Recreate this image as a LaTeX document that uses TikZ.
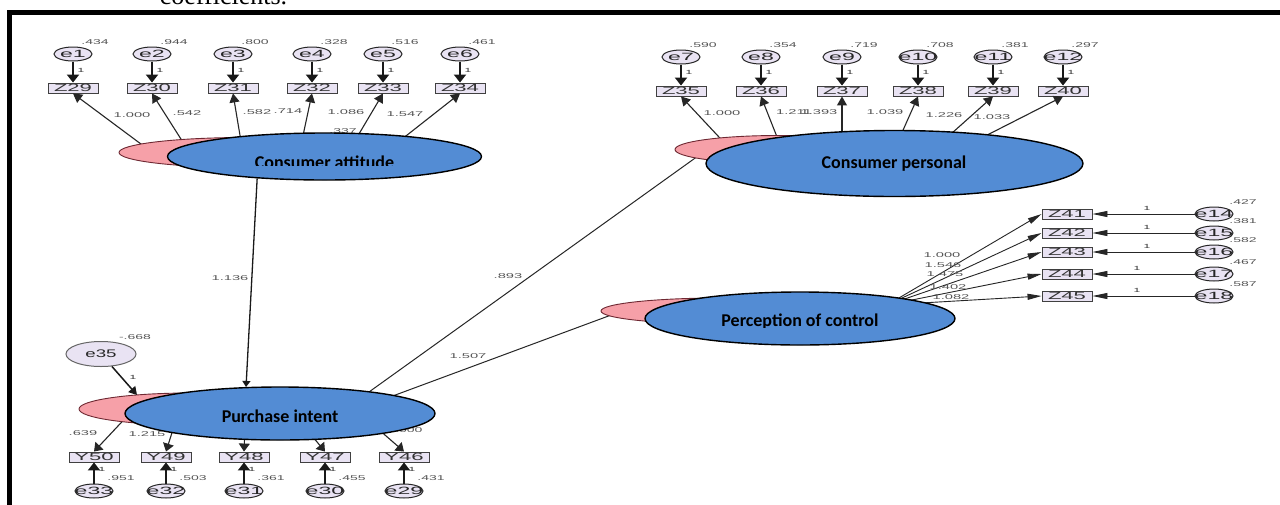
\documentclass[tikz,border=0pt]{standalone}
\usepackage{fontspec}
\setmainfont{Liberation Sans}
\newfontfamily\calfont{Carlito}
\newfontfamily\capfont{Liberation Serif}
\usepackage{graphicx}
\usetikzlibrary{shapes.geometric,arrows.meta}

\definecolor{latblue}{RGB}{83,140,212}
\definecolor{pinkfill}{RGB}{246,160,168}
\definecolor{pinkedge}{RGB}{110,40,50}
\definecolor{lav}{RGB}{233,227,243}
\definecolor{numgray}{RGB}{85,85,85}

% horizontally stretched label that takes no width of its own
\newcommand{\hstretch}[2]{\makebox[0pt]{\scalebox{#1}[1]{#2}}}

\tikzset{
  errnode/.style={ellipse, draw=black!85, fill=lav, line width=1pt,
    minimum width=38pt, minimum height=14pt, inner sep=0pt,
    font=\fontsize{10.5}{11}\selectfont, text=black!85},
  obsnode/.style={rectangle, draw=black!75, fill=lav, line width=0.9pt,
    minimum width=50pt, minimum height=10pt, inner sep=0pt,
    font=\fontsize{10.5}{11}\selectfont, text=black!80},
  pinknode/.style={ellipse, draw=pinkedge, fill=pinkfill, line width=0.9pt, inner sep=0pt},
  latnode/.style={ellipse, draw=black, fill=latblue, line width=1.4pt, inner sep=0pt},
  lattext/.style={font=\calfont\bfseries\fontsize{18}{18}\selectfont, inner sep=0pt, anchor=base},
  numlbl/.style={font=\fontsize{7}{7}\selectfont, text=numgray, inner sep=0pt},
  onelbl/.style={font=\fontsize{6}{6}\selectfont, text=black!80, inner sep=0pt},
  errarrow/.style={line width=2pt, draw=black!90, -{Triangle[length=8pt,width=12pt]}},
  loadarrow/.style={line width=1.1pt, draw=black!85, -{Triangle[length=9pt,width=10pt]}},
  flatarrow/.style={line width=0.9pt, draw=black!85, -{Triangle[length=15pt,width=6pt]}},
  pathline/.style={line width=1pt, draw=black!85},
  patharrow/.style={line width=1.3pt, draw=black!90, -{Triangle[length=6pt,width=8pt]}},
}

\begin{document}
\begin{tikzpicture}[x=1pt,y=-1pt]
\useasboundingbox (0,0) rectangle (1280,504);
\clip (0,0) rectangle (1280,504);
\fill[white] (0,0) rectangle (1280,504);

% tail of the caption line and the frame
\node[anchor=base, font=\capfont\fontsize{26}{26}\selectfont, inner sep=0pt] (captail) at (223.5,4) {coefficients.};
\draw[line width=5pt, line join=miter] (9.5,510) -- (9.5,12) -- (1290,12);

% ---------- Consumer attitude indicators ----------
\foreach \n/\z/\x/\v in {1/29/73/.434, 2/30/152/.944, 3/31/233/.800, 4/32/312/.328, 5/33/383/.516, 6/34/460/.461}{
  \node[errnode] (e\n) at (\x,54) {\hstretch{2.2}{e\n}};
  \node[obsnode] (Z\z) at (\x,88) {\hstretch{2.1}{Z\z}};
  \draw[errarrow] (e\n) -- (Z\z);
  \node[onelbl] (one\n) at (\x+8,70) {\hstretch{2}{1}};
  \node[numlbl] (var\n) at (\x+22,42) {\hstretch{2}{\v}};
}

% ---------- Consumer personal indicators ----------
\foreach \n/\z/\x/\v in {7/35/681/.590, 8/36/761/.354, 9/37/842/.719, 10/38/918/.708, 11/39/993/.381, 12/40/1063/.297}{
  \node[errnode] (e\n) at (\x,57) {\hstretch{2.2}{e\n}};
  \node[obsnode] (Z\z) at (\x,91) {\hstretch{2.1}{Z\z}};
  \draw[errarrow] (e\n) -- (Z\z);
  \node[onelbl] (one\n) at (\x+8,72) {\hstretch{2}{1}};
  \node[numlbl] (var\n) at (\x+22,45) {\hstretch{2}{\v}};
}

% ---------- Perception of control indicators ----------
\foreach \n/\z/\y/\v/\ox in {14/41/214/.427/1147, 15/42/233/.381/1147, 16/43/252/.582/1147, 17/44/274/.467/1137, 18/45/296/.587/1137}{
  \node[errnode] (e\n) at (1214,\y) {\hstretch{2.2}{e\n}};
  \node[obsnode] (Z\z) at (1067,\y) {\hstretch{2.1}{Z\z}};
  \draw[flatarrow] (e\n) -- (Z\z);
  \node[onelbl] (one\n) at (\ox,\y-6) {\hstretch{2}{1}};
  \node[numlbl] (var\n) at (1243,\y-12) {\hstretch{2}{\v}};
}

% ---------- Purchase intent indicators ----------
\foreach \n/\z/\x/\v in {33/50/94/.951, 32/49/166/.503, 31/48/244/.361, 30/47/325/.455, 29/46/404/.431}{
  \node[errnode] (e\n) at (\x,491) {\hstretch{2.2}{e\n}};
  \node[obsnode] (Y\z) at (\x,457) {\hstretch{2.1}{Y\z}};
  \draw[errarrow] (e\n) -- (Y\z);
  \node[onelbl] (one\n) at (\x+8,469) {\hstretch{2}{1}};
  \node[numlbl] (var\n) at (\x+27,478) {\hstretch{2}{\v}};
}

% disturbance of purchase intent
\node[ellipse, draw=black!60, fill=lav, line width=1pt, minimum width=70pt, minimum height=25pt,
      inner sep=0pt, font=\fontsize{11}{11}\selectfont, text=black!85] (e35) at (101,354) {\hstretch{1.7}{e35}};
\node[numlbl] (var35) at (135,337) {\hstretch{2}{-.668}};
\node[onelbl] (one35) at (133,377) {\hstretch{2}{1}};

% ---------- loading lines (their tails sit under the latent ellipses) ----------
\coordinate (s29) at (149,150);
\coordinate (s30) at (186,147);
\coordinate (s31) at (241.6,145);
\coordinate (s32) at (301,145);
\coordinate (s33) at (353,144);
\coordinate (s34) at (397,143);
\foreach \z in {29,30,31,32,33,34}{ \draw[loadarrow] (s\z) -- (Z\z.south); }

\coordinate (s35) at (725.4,143.9);
\coordinate (s36) at (780,144.5);
\coordinate (s37) at (842,141);
\coordinate (s38) at (900,137);
\coordinate (s39) at (946,138.4);
\coordinate (s40) at (976,140.7);
\foreach \z in {35,36,37,38,39,40}{ \draw[loadarrow] (s\z) -- (Z\z.south); }

\coordinate (pchub) at (887,305);
\foreach \z in {41,42,43,44,45}{ \draw[line width=0.9pt, draw=black!85, -{Triangle[length=14pt,width=6pt]}] (pchub) -- (Z\z.west); }

\coordinate (s50) at (133,410);
\coordinate (s49) at (176,420);
\coordinate (s48) at (245,425);
\coordinate (s47) at (303,425);
\coordinate (s46) at (370,422);
\foreach \z in {50,49,48,47,46}{ \draw[loadarrow, -{Triangle[length=8pt,width=11pt]}] (s\z) -- (Y\z.north); }

% structural paths running under the ellipses
\coordinate (pi-a) at (363.8,395.7);
\coordinate (cp-a) at (698,156);
\draw[pathline] (pi-a) -- (cp-a);
\coordinate (pi-b) at (388.6,397.5);
\coordinate (pc-a) at (612,314.7);
\draw[pathline] (pi-b) -- (pc-a);

% ---------- original latent ellipses ----------
\node[pinknode, minimum width=252pt, minimum height=30pt] (CApink) at (245,152.5) {};
\node[pinknode, minimum width=206pt, minimum height=28pt] (CPpink) at (778,149.5) {};
\node[pinknode, minimum width=238pt, minimum height=26pt] (PCpink) at (720,311) {};
\node[pinknode, minimum width=222pt, minimum height=32pt] (PIpink) at (190,409) {};

\coordinate (pi-in) at (137,395);
\draw[line width=1.5pt, draw=black!90, -{Triangle[length=8pt,width=9pt]}] (e35) -- (pi-in);

% labels partly covered by the overlays
\node[numlbl] (cov1) at (343,131) {\hstretch{2}{.337}};
\node[numlbl] (cov2) at (405,430) {\hstretch{2}{1.000}};

% ---------- labelled overlays ----------
\node[latnode, minimum width=314pt, minimum height=47pt] (CA) at (324.5,156.5) {};
\begin{scope}
  \clip (230,140) rectangle (420,165.5);
  \node[lattext] (CAtxt) at (324.5,168.6) {Consumer attitude};
\end{scope}

\node[latnode, minimum width=377pt, minimum height=66pt] (CP) at (894.5,163.5) {};
\node[lattext] (CPtxt) at (894,168.5) {Consumer personal};

\node[latnode, minimum width=310pt, minimum height=53pt] (PC) at (800,318.5) {};
\begin{scope}
  \clip (680,300) rectangle (920,327.5);
  \node[lattext] (PCtxt) at (800,326.6) {Perception of control};
\end{scope}

\node[latnode, minimum width=310pt, minimum height=53pt] (PI) at (280,413.5) {};
\node[lattext] (PItxt) at (280,422.6) {Purchase intent};

\draw[patharrow] (CA.198) -- (PI.142);

% ---------- coefficient labels ----------
\node[numlbl] (l29) at (132,115) {\hstretch{2.1}{1.000}};
\node[numlbl] (l30) at (187,113) {\hstretch{2.1}{.542}};
\node[numlbl] (l31) at (257,112) {\hstretch{2.1}{.582}};
\node[numlbl] (l32) at (288,111) {\hstretch{2.1}{.714}};
\node[numlbl] (l33) at (346,112) {\hstretch{2.1}{1.086}};
\node[numlbl] (l34) at (405,114) {\hstretch{2.1}{1.547}};

\node[numlbl] (l35) at (722,113) {\hstretch{2.1}{1.000}};
\node[numlbl] (l36) at (794,112) {\hstretch{2.1}{1.211}};
\node[numlbl] (l37) at (819,112) {\hstretch{2.1}{1.393}};
\node[numlbl] (l38) at (885,112) {\hstretch{2.1}{1.039}};
\node[numlbl] (l39) at (944,115) {\hstretch{2.1}{1.226}};
\node[numlbl] (l40) at (992,117) {\hstretch{2.1}{1.033}};

\node[numlbl] (l41) at (942,255) {\hstretch{2.1}{1.000}};
\node[numlbl] (l42) at (943,265) {\hstretch{2.1}{1.546}};
\node[numlbl] (l43) at (945,274) {\hstretch{2.1}{1.475}};
\node[numlbl] (l44) at (948,287) {\hstretch{2.1}{1.402}};
\node[numlbl] (l45) at (951,297) {\hstretch{2.1}{1.082}};

\node[numlbl] (l50) at (83,433) {\hstretch{2.1}{.639}};
\node[numlbl] (l49) at (147,434) {\hstretch{2.1}{1.215}};

\node[numlbl] (b1) at (230,278) {\hstretch{2.1}{1.136}};
\node[numlbl] (b2) at (508,276) {\hstretch{2.1}{.893}};
\node[numlbl] (b3) at (468,356) {\hstretch{2.1}{1.507}};
\end{tikzpicture}
\end{document}
